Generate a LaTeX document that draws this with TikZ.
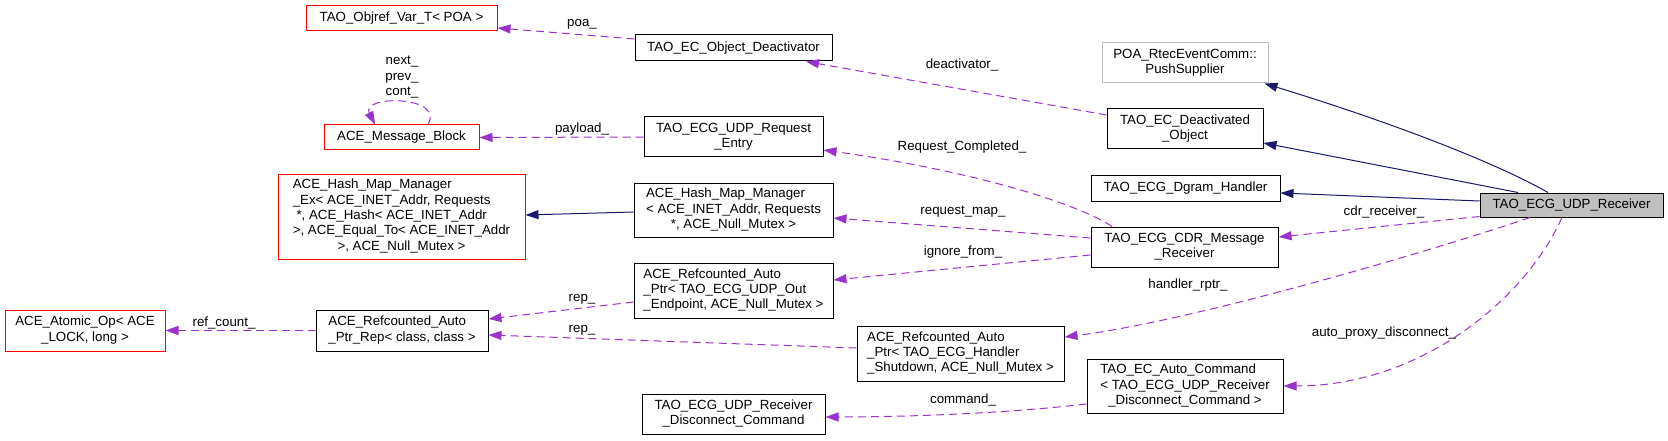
\documentclass[tikz,border=0pt]{standalone}
\usepackage{fontspec}
\setmainfont{Liberation Sans}
\usetikzlibrary{arrows.meta,calc}
\definecolor{edgeblue}{HTML}{191970}
\definecolor{edgepurple}{HTML}{9A32CD}
\definecolor{boxgray}{HTML}{BFBFBF}
\newcommand{\nlab}[1]{\begin{tabular}{@{}c@{}}#1\end{tabular}}
\newcommand{\nlabl}[2]{\begin{tabular}{@{}l@{}}#1\\\multicolumn{1}{@{}c@{}}{#2}\end{tabular}}
\begin{document}
\begin{tikzpicture}[x=1pt,y=-1pt,
  every node/.style={font=\fontsize{13.3}{15.3}\selectfont},
  box/.style={draw=black, line width=1pt, inner sep=0pt, anchor=center},
  redbox/.style={box, draw=red},
  graybox/.style={box, draw=boxgray},
  inhedge/.style={draw=edgeblue, line width=1pt, -{Triangle[length=13pt,width=9pt]}},
  usedge/.style={draw=edgepurple, line width=1pt, dash pattern=on 8pt off 5pt, -{Triangle[length=13pt,width=9pt]}},
  elab/.style={inner sep=0pt}]
\path[use as bounding box, fill=white] (0,0) rectangle (1668,441);

% nodes
\node[redbox, minimum width=191pt, minimum height=25pt] (objref) at (401.5,18.5) {\nlab{TAO\_Objref\_Var\_T< POA >}};
\node[redbox, minimum width=155pt, minimum height=25pt] (msgblock) at (401.5,137.5) {\nlab{ACE\_Message\_Block}};
\node[redbox, minimum width=247pt, minimum height=85pt] (hashex) at (401.5,216.5) {\nlabl{ACE\_Hash\_Map\_Manager\\\_Ex< ACE\_INET\_Addr, Requests\\\hspace{3.7pt}*, ACE\_Hash< ACE\_INET\_Addr\\>, ACE\_Equal\_To< ACE\_INET\_Addr}{>, ACE\_Null\_Mutex >}};
\node[redbox, minimum width=160pt, minimum height=41pt] (atomic) at (85,330.5) {\nlabl{ACE\_Atomic\_Op< ACE}{\_LOCK, long >}};
\node[box, minimum width=172pt, minimum height=41pt] (rep) at (402,330.5) {\nlabl{ACE\_Refcounted\_Auto}{\_Ptr\_Rep< class, class >}};
\node[box, minimum width=197pt, minimum height=26pt] (objdeact) at (733.5,48) {\nlab{TAO\_EC\_Object\_Deactivator}};
\node[box, minimum width=179pt, minimum height=40pt] (reqentry) at (733.5,137) {\nlabl{TAO\_ECG\_UDP\_Request}{\_Entry}};
\node[box, minimum width=199pt, minimum height=54pt] (hashmap) at (733.5,210) {\nlabl{ACE\_Hash\_Map\_Manager\\< ACE\_INET\_Addr, Requests}{*, ACE\_Null\_Mutex >}};
\node[box, minimum width=199pt, minimum height=55pt] (outendpt) at (733.5,290.5) {\nlabl{ACE\_Refcounted\_Auto\\\_Ptr< TAO\_ECG\_UDP\_Out}{\_Endpoint, ACE\_Null\_Mutex >}};
\node[box, minimum width=183pt, minimum height=40pt] (disccmd) at (733.5,414) {\nlabl{TAO\_ECG\_UDP\_Receiver}{\_Disconnect\_Command}};
\node[box, minimum width=207pt, minimum height=55pt] (handler) at (960.5,353.5) {\nlabl{ACE\_Refcounted\_Auto\\\_Ptr< TAO\_ECG\_Handler}{\_Shutdown, ACE\_Null\_Mutex >}};
\node[graybox, minimum width=166pt, minimum height=40pt] (poa) at (1185,63) {\nlabl{POA\_RtecEventComm::}{PushSupplier}};
\node[box, minimum width=156pt, minimum height=40pt] (deactobj) at (1185,129) {\nlabl{TAO\_EC\_Deactivated}{\_Object}};
\node[box, minimum width=189pt, minimum height=26pt] (dgram) at (1185.5,188) {\nlab{TAO\_ECG\_Dgram\_Handler}};
\node[box, minimum width=187pt, minimum height=40pt] (cdr) at (1184.5,247) {\nlabl{TAO\_ECG\_CDR\_Message}{\_Receiver}};
\node[box, minimum width=196pt, minimum height=54pt] (autocmd) at (1185,386) {\nlabl{TAO\_EC\_Auto\_Command\\< TAO\_ECG\_UDP\_Receiver}{\_Disconnect\_Command >}};
\node[box, fill=boxgray, minimum width=183pt, minimum height=24pt] (rec) at (1571.5,205) {\nlab{TAO\_ECG\_UDP\_Receiver}};

% inheritance edges
\draw[inhedge] ($(rec.north)+(-23.5,0)$) .. controls (1500,165) and (1400,125) .. ($(poa.south east)+(-4,0)$);
\draw[inhedge] ($(rec.north)+(-53.5,0)$) -- ($(deactobj.east)+(0,14)$);
\draw[inhedge] ($(rec.west)+(0,-4)$) -- ($(dgram.east)+(0,5)$);
\draw[inhedge] ($(hashmap.west)+(0,2)$) -- ($(hashex.east)+(0,-1.5)$);

% usage edges
\draw[usedge] ($(rec.south west)+(0,-1)$) -- ($(cdr.east)+(0,-10)$);
\draw[usedge] ($(rec.south)+(-41.5,0)$) .. controls (1450,245) and (1200,320) .. ($(handler.east)+(0,-16.5)$);
\draw[usedge] ($(rec.south)+(-9.5,0)$) .. controls (1525,300) and (1420,386) .. (autocmd.east);
\draw[usedge] ($(cdr.north)+(-72.5,0)$) .. controls (1080,205) and (980,172) .. ($(reqentry.east)+(0,13)$);
\draw[usedge] ($(cdr.west)+(0,-9)$) -- ($(hashmap.east)+(0,8)$);
\draw[usedge] ($(cdr.west)+(0,8)$) -- ($(outendpt.east)+(0,-10.5)$);
\draw[usedge] ($(deactobj.west)+(0,-14)$) -- ($(objdeact.south)+(72.5,0)$);
\draw[usedge] ($(objdeact.west)+(0,-9)$) -- ($(objref.east)+(0,9.5)$);
\draw[usedge] (reqentry.west) -- (msgblock.east);
\draw[usedge] ($(msgblock.north)+(26.5,0)$) .. controls (445,95) and (360,95) .. ($(msgblock.north)+(-26.5,0)$);
\draw[usedge] ($(outendpt.west)+(0,11.5)$) -- ($(rep.east)+(0,-11.5)$);
\draw[usedge] ($(handler.west)+(0,-5.5)$) -- ($(rep.east)+(0,4.5)$);
\draw[usedge] (rep.west) -- (atomic.east);
\draw[usedge] ($(autocmd.west)+(0,18)$) .. controls (1000,414) and (900,417) .. ($(disccmd.east)+(0,3)$);

% edge labels
\node[elab] (lpoa) at (582,24) {poa\_};
\node[elab] (lpayload) at (582,129) {payload\_};
\node[elab] (lloop) at (402,77) {\nlab{next\_\\prev\_\\cont\_}};
\node[elab] (ldeact) at (962,65) {deactivator\_};
\node[elab] (lreqc) at (962,147) {Request\_Completed\_};
\node[elab] (lreqmap) at (963,212) {request\_map\_};
\node[elab] (lignore) at (963,252) {ignore\_from\_};
\node[elab] (lrep1) at (582,299) {rep\_};
\node[elab] (lrep2) at (582,330) {rep\_};
\node[elab] (lref) at (224,323) {ref\_count\_};
\node[elab] (lcmd) at (963,400) {command\_};
\node[elab] (lcdr) at (1384,212) {cdr\_receiver\_};
\node[elab] (lhandler) at (1188,285) {handler\_rptr\_};
\node[elab] (lauto) at (1384,333) {auto\_proxy\_disconnect\_};
\end{tikzpicture}
\end{document}
